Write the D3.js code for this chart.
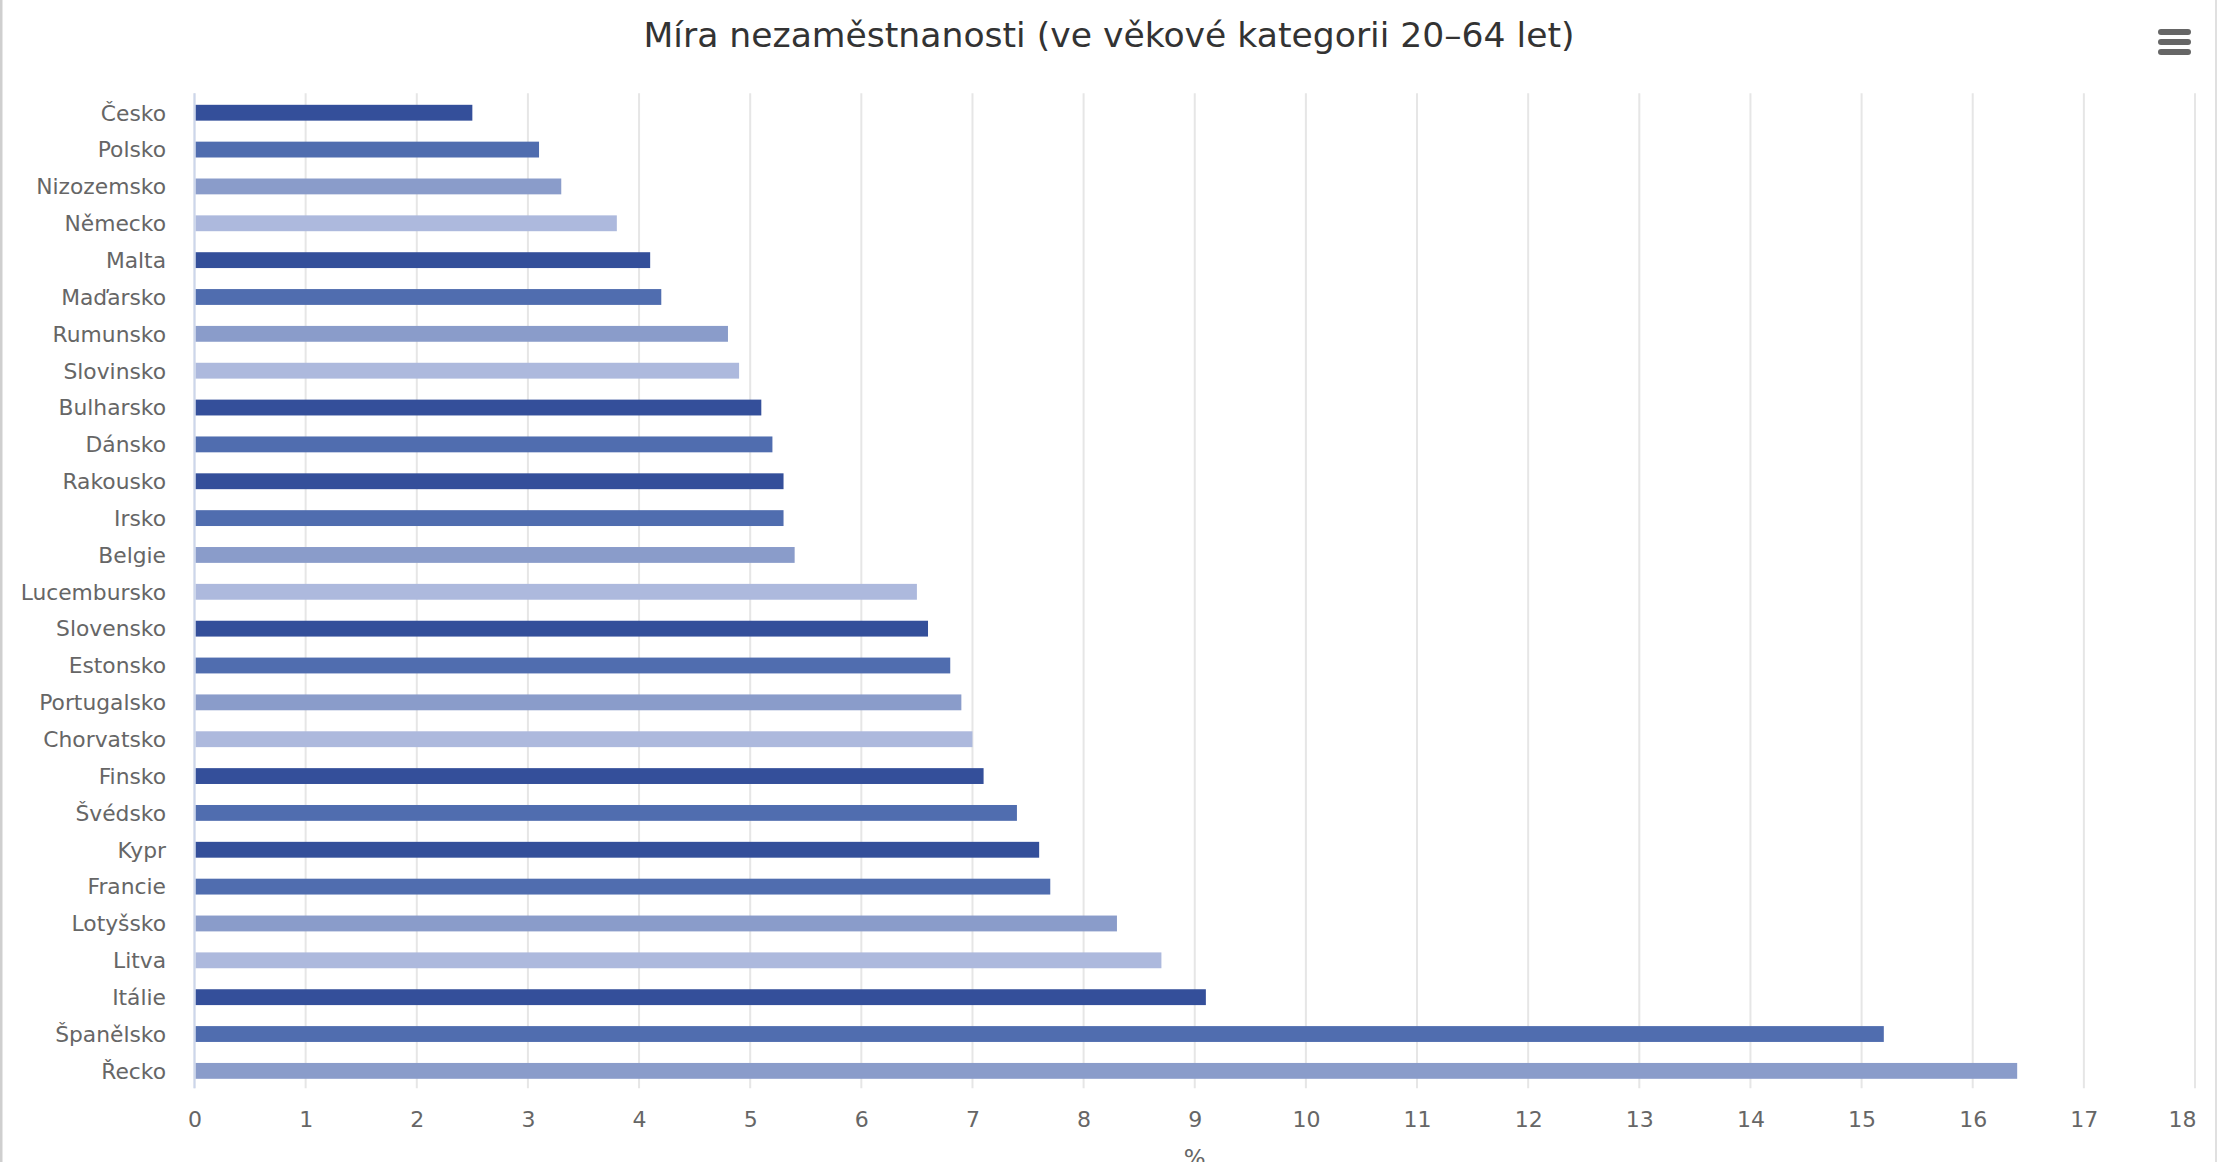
<!DOCTYPE html>
<html>
<head>
<meta charset="utf-8">
<script src="https://cdn.jsdelivr.net/npm/d3@7"></script>
<style>
  html, body { margin: 0; padding: 0; background: #fff; }
  svg { display: block; font-family: "DejaVu Sans", sans-serif; }
</style>
</head>
<body>
<div id="chart"></div>
<script>
const countries = ["Česko","Polsko","Nizozemsko","Německo","Malta","Maďarsko","Rumunsko","Slovinsko",
  "Bulharsko","Dánsko","Rakousko","Irsko","Belgie","Lucembursko","Slovensko","Estonsko","Portugalsko",
  "Chorvatsko","Finsko","Švédsko","Kypr","Francie","Lotyšsko","Litva","Itálie","Španělsko","Řecko"]
const rates = [2.5,3.1,3.3,3.8,4.1,4.2,4.8,4.9,5.1,5.2,5.3,5.3,5.4,6.5,6.6,6.8,6.9,7.0,7.1,7.4,7.6,7.7,8.3,8.7,9.1,15.2,16.4]
const xTicks = d3.range(0, 19)
const titleText = "Míra nezaměstnanosti (ve věkové kategorii 20–64 let)"
const xTitle = "%"

// shade of each bar (index into palette)
const palette = ["#344f9a","#506daf","#8a9cca","#adb9dd"]
const shade = [0,1,2,3,0,1,2,3,0,1,0,1,2,3,0,1,2,3,0,1,0,1,2,3,0,1,2]

const width = 2218, height = 1162
const margin = {top: 93.3, right: 23, bottom: 73.7, left: 194.5}

const svg = d3.select("#chart").append("svg")
    .attr("width", width)
    .attr("height", height)

// container border
svg.append("line").attr("x1",1).attr("x2",1).attr("y1",0).attr("y2",height)
    .attr("stroke","#cfcfcf").attr("stroke-width",3)
svg.append("line").attr("x1",width-2).attr("x2",width-2).attr("y1",0).attr("y2",height)
    .attr("stroke","#e0e0e0").attr("stroke-width",2)

const x = d3.scaleLinear().domain([0,18]).range([margin.left, width - margin.right])
const y = d3.scaleBand().domain(countries).range([margin.top, height - margin.bottom]).padding(0)

// grid
svg.append("g")
    .selectAll("line")
    .data(xTicks)
    .enter()
    .append("line")
    .attr("x1", d => x(d)).attr("x2", d => x(d))
    .attr("y1", margin.top).attr("y2", height - margin.bottom)
    .attr("stroke", "#e6e6e6")
    .attr("stroke-width", 2)

// bars
const barH = y.bandwidth() * 0.43
svg.append("g")
    .selectAll("rect")
    .data(countries)
    .enter()
    .append("rect")
    .attr("x", x(0) + 1)
    .attr("y", d => y(d) + y.bandwidth()/2 - barH/2 + 1)
    .attr("width", (d,i) => x(rates[i]) - x(0) - 1)
    .attr("height", barH)
    .attr("fill", (d,i) => palette[shade[i]])

// y axis line + labels
svg.append("line")
    .attr("x1", x(0)).attr("x2", x(0))
    .attr("y1", margin.top).attr("y2", height - margin.bottom)
    .attr("stroke", "#ccd6eb").attr("stroke-width", 2)

svg.append("g")
    .selectAll("text")
    .data(countries)
    .enter()
    .append("text")
    .attr("x", 166)
    .attr("y", d => y(d) + y.bandwidth()/2 + 1)
    .attr("dy", "0.36em")
    .attr("text-anchor", "end")
    .attr("fill", "#666")
    .style("font-size", "21.8px")
    .text(d => d)

// x tick labels
const xAxis = d3.axisBottom(x).tickValues(xTicks).tickSize(0).tickPadding(0)
const gx = svg.append("g")
    .attr("transform", "translate(0," + (height - margin.bottom) + ")")
    .call(xAxis)
gx.select(".domain").remove()
gx.selectAll("text")
    .attr("y", 39)
    .attr("dy", 0)
    .attr("fill", "#666")
    .style("font-size", "22px")
    .style("font-family", "DejaVu Sans, sans-serif")
// last label kept inside the plot edge
gx.selectAll("text").filter(d => d === 18)
    .attr("text-anchor", "end")
    .attr("x", 1)

svg.append("text")
    .attr("x", (x(0) + x(18)) / 2)
    .attr("y", 1166)
    .attr("text-anchor", "middle")
    .attr("fill", "#666")
    .style("font-size", "23px")
    .text(xTitle)

// title
svg.append("text")
    .attr("x", width / 2)
    .attr("y", 47)
    .attr("text-anchor", "middle")
    .attr("fill", "#333")
    .style("font-size", "34.6px")
    .text(titleText)

// menu icon
svg.append("g")
    .selectAll("line")
    .data([32, 42, 52])
    .enter()
    .append("line")
    .attr("x1", 2161).attr("x2", 2188)
    .attr("y1", d => d).attr("y2", d => d)
    .attr("stroke", "#666")
    .attr("stroke-width", 6)
    .attr("stroke-linecap", "round")
</script>
</body>
</html>
